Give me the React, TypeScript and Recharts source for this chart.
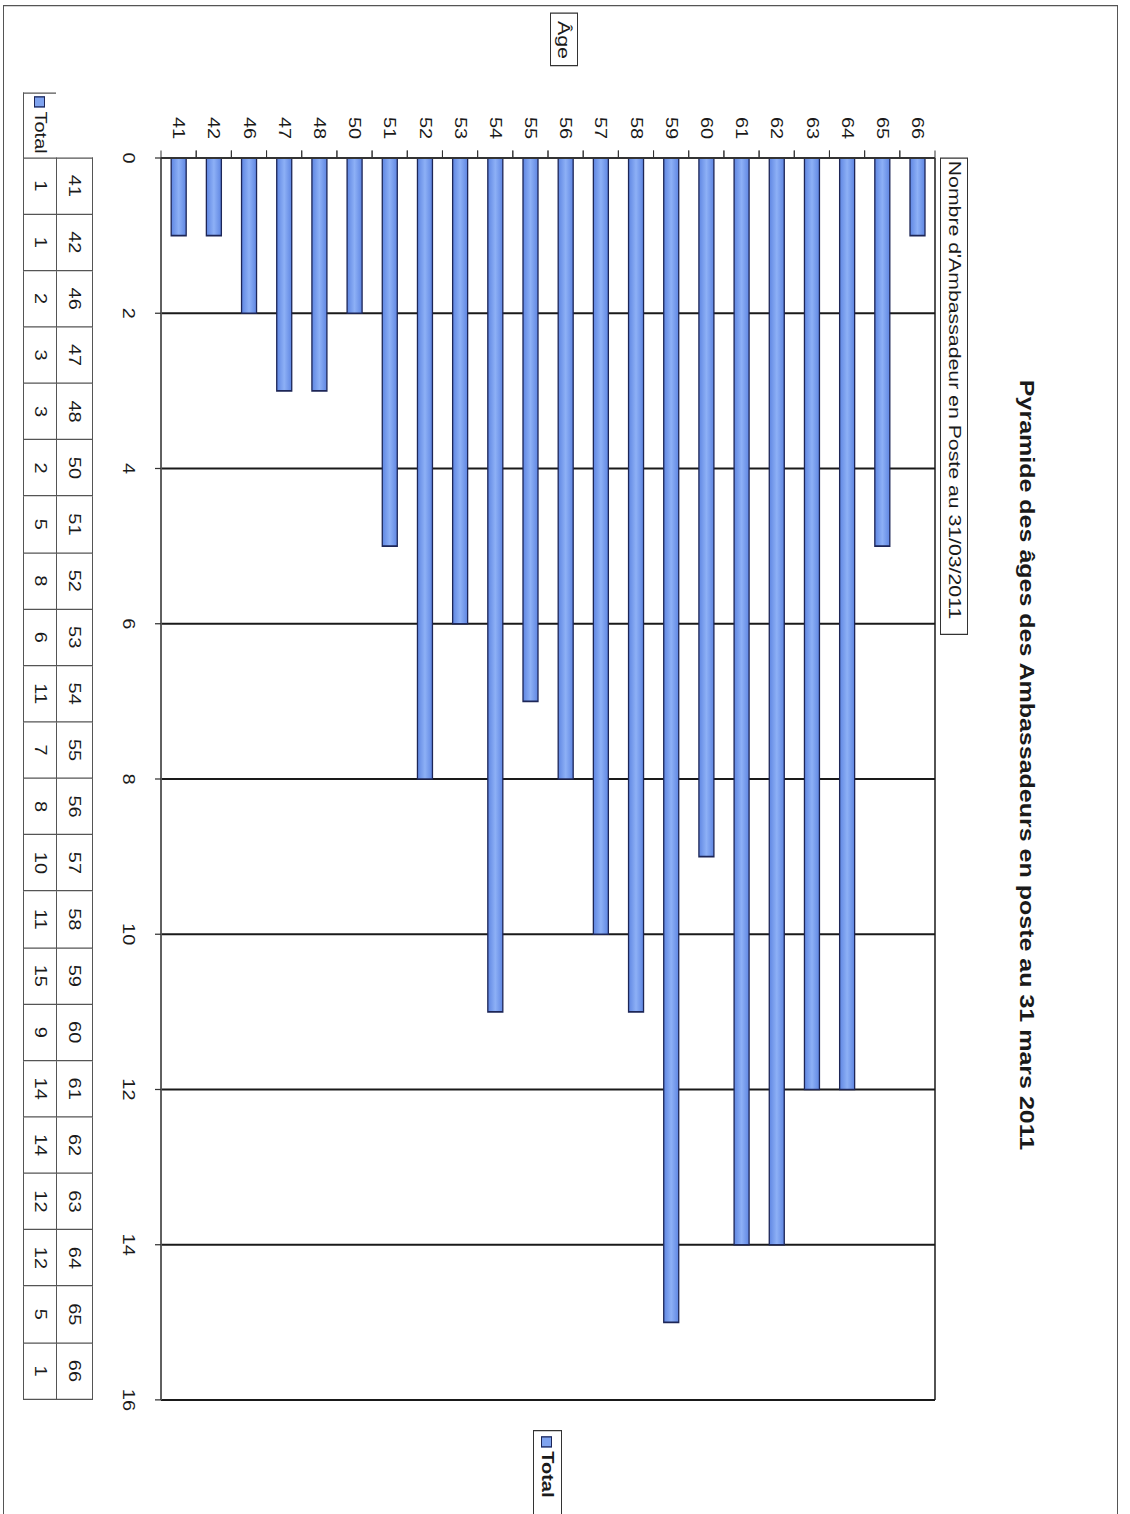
import React from 'react';
import { BarChart, Bar, XAxis, YAxis, CartesianGrid } from 'recharts';

const AGES = ['41', '42', '46', '47', '48', '50', '51', '52', '53', '54', '55', '56', '57', '58', '59', '60', '61', '62', '63', '64', '65', '66'];
const TOTALS = [1, 1, 2, 3, 3, 2, 5, 8, 6, 11, 7, 8, 10, 11, 15, 9, 14, 14, 12, 12, 5, 1];
const VALUE_TICKS = [0, 2, 4, 6, 8, 10, 12, 14, 16];

const TITLE = 'Pyramide des âges des Ambassadeurs en poste au 31 mars 2011';
const DATA_FIELD = "Nombre d'Ambassadeur en Poste au 31/03/2011";
const ROW_FIELD = 'Âge';
const SERIES_NAME = 'Total';

const data = AGES.map((age, i) => ({ age, total: TOTALS[i] }));

// the scan is the chart turned a quarter clockwise and a bit stretched
// along its length, so it is drawn flat here and turned with css
const STRETCH = 1.25;
const W = 1514 / STRETCH;
const H = 1130;
const PLOT = { left: 126.4, right: 1120, top: 195, bottom: 969 };
const Y_AXIS_W = 40;
const X_AXIS_H = 30;
const BAND = (PLOT.bottom - PLOT.top) / AGES.length;
const FONT = '"Liberation Sans", Arial, sans-serif';
const INK = '#1a1a1a';

function AgeTick(props: any) {
  const { y, payload } = props;
  return (
    <g>
      <text x={PLOT.left - 15} y={y} textAnchor="end" dominantBaseline="central" fontSize={16} fill={INK} fontFamily={FONT}>
        {payload.value}
      </text>
      <line x1={PLOT.left - 6} x2={PLOT.left} y1={y - BAND / 2} y2={y - BAND / 2} stroke="#333" strokeWidth={1} />
      <line x1={PLOT.left - 6} x2={PLOT.left} y1={y + BAND / 2} y2={y + BAND / 2} stroke="#333" strokeWidth={1} />
    </g>
  );
}

function KeySwatch() {
  return (
    <span
      style={{
        display: 'inline-block',
        width: 7,
        height: 9,
        background: '#7fa3ef',
        border: '1px solid #1d2657',
        marginRight: 3,
        verticalAlign: 'middle',
      }}
    />
  );
}

function DataTable() {
  const cell: React.CSSProperties = { border: '1px solid #555', padding: 0, textAlign: 'center' };
  return (
    <table
      style={{
        position: 'absolute',
        left: 73.6,
        top: 1037,
        width: PLOT.right - 73.6,
        borderCollapse: 'collapse',
        tableLayout: 'fixed',
        fontSize: 16,
        fontFamily: FONT,
        color: INK,
      }}
    >
      <colgroup>
        <col style={{ width: PLOT.left - 0.8 - 73.6 }} />
        {AGES.map((a) => (
          <col key={a} />
        ))}
      </colgroup>
      <tbody>
        <tr style={{ height: 36 }}>
          <td style={{ padding: 0, border: 'none' }} />
          {AGES.map((a) => (
            <td key={a} style={cell}>{a}</td>
          ))}
        </tr>
        <tr style={{ height: 33 }}>
          <td style={{ ...cell, borderTop: 'hidden', fontSize: 16, whiteSpace: 'nowrap' }}>
            <KeySwatch />
            {SERIES_NAME}
          </td>
          {TOTALS.map((v, i) => (
            <td key={i} style={cell}>{v}</td>
          ))}
        </tr>
      </tbody>
    </table>
  );
}

export default function App() {
  return (
    <div style={{ position: 'absolute', left: 0, top: 0, width: 1130, height: 1514, overflow: 'hidden', background: '#fff' }}>
      <div
        style={{
          position: 'absolute',
          left: 0,
          top: 0,
          width: W,
          height: H,
          transformOrigin: '0 0',
          transform: `translateX(1130px) rotate(90deg) scaleX(${STRETCH})`,
          fontFamily: FONT,
          color: INK,
        }}
      >
        <div style={{ position: 'absolute', left: 4, top: 12, width: W + 20, height: 1113, border: '1.5px solid #555' }} />

        <div style={{ position: 'absolute', left: 212, top: 91, width: 800, textAlign: 'center', fontWeight: 'bold', fontSize: 20, lineHeight: '24px' }}>
          {TITLE}
        </div>

        <div
          style={{
            position: 'absolute',
            left: PLOT.left - 0.8,
            top: 162,
            width: 378,
            height: 26,
            border: '1px solid #333',
            fontSize: 17,
            lineHeight: '26px',
            paddingLeft: 2,
            whiteSpace: 'nowrap',
          }}
        >
          {DATA_FIELD}
        </div>

        <div
          style={{
            position: 'absolute',
            left: 10.4,
            top: 552,
            width: 41,
            height: 26,
            border: '1px solid #333',
            fontSize: 17,
            lineHeight: '27px',
            textAlign: 'center',
          }}
        >
          {ROW_FIELD}
        </div>

        <div
          style={{
            position: 'absolute',
            left: 1144,
            top: 568,
            width: 64,
            height: 27,
            border: '1px solid #333',
            fontSize: 16,
            fontWeight: 'bold',
            lineHeight: '27px',
            paddingLeft: 4,
            whiteSpace: 'nowrap',
          }}
        >
          <KeySwatch />
          {SERIES_NAME}
        </div>

        <DataTable />

        <BarChart
          width={W}
          height={H}
          data={data}
          layout="vertical"
          margin={{
            top: PLOT.top,
            right: W - PLOT.right,
            left: PLOT.left - Y_AXIS_W,
            bottom: H - PLOT.bottom - X_AXIS_H,
          }}
          style={{ position: 'absolute', left: 0, top: 0 }}
        >
          <defs>
            <linearGradient id="barFill" x1="0" y1="0" x2="0" y2="1">
              <stop offset="0%" stopColor="#5f86e2" />
              <stop offset="50%" stopColor="#8db0f6" />
              <stop offset="100%" stopColor="#5f86e2" />
            </linearGradient>
          </defs>
          <CartesianGrid stroke={INK} strokeWidth={1.5} horizontalPoints={[PLOT.top, PLOT.bottom]} />
          <XAxis
            type="number"
            domain={[0, 16]}
            ticks={VALUE_TICKS}
            interval={0}
            height={X_AXIS_H}
            tickSize={6}
            tickMargin={21}
            axisLine={{ stroke: '#666', strokeWidth: 1.5 }}
            tickLine={{ stroke: '#333' }}
            tick={{ fontSize: 16, fill: INK, fontFamily: FONT }}
          />
          <YAxis
            type="category"
            dataKey="age"
            reversed
            width={Y_AXIS_W}
            interval={0}
            tickLine={false}
            axisLine={{ stroke: '#333', strokeWidth: 1.5 }}
            tick={<AgeTick />}
          />
          <Bar
            dataKey="total"
            name={SERIES_NAME}
            barSize={15}
            fill="url(#barFill)"
            stroke="#1d2657"
            strokeWidth={1.3}
            isAnimationActive={false}
          />
        </BarChart>
      </div>
    </div>
  );
}
